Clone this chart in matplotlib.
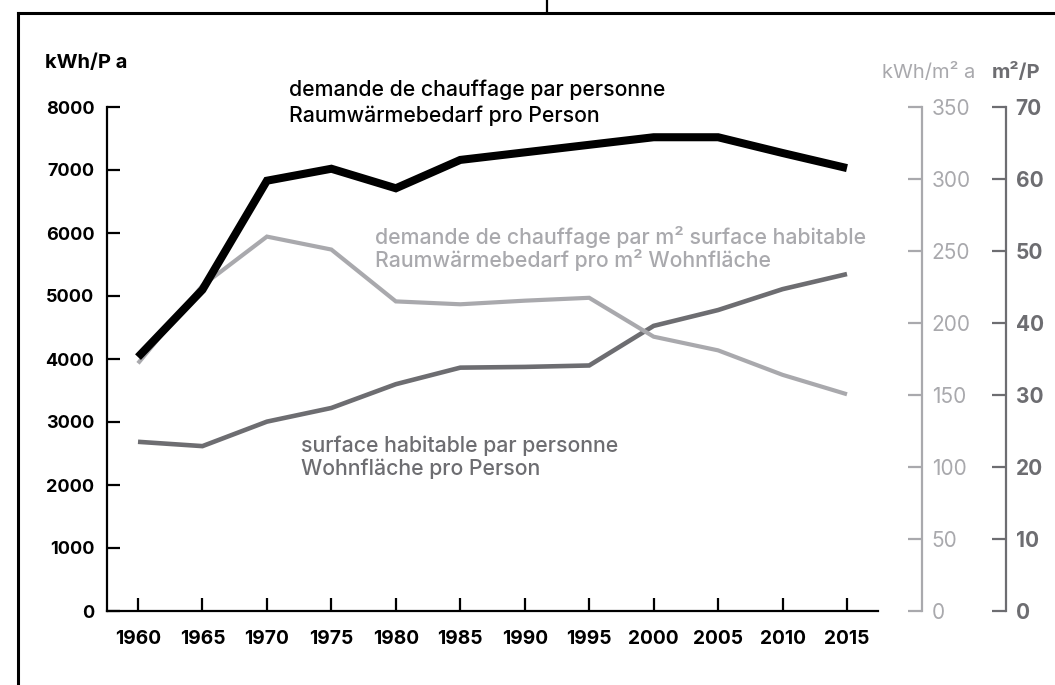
import matplotlib
matplotlib.use("Agg")
import matplotlib.pyplot as plt
from matplotlib.lines import Line2D

plt.rcParams['font.family'] = ['Inter', 'DejaVu Sans']

years = [1960, 1965, 1970, 1975, 1980, 1985, 1990, 1995, 2000, 2005, 2010, 2015]
kwh_per_person = [4030, 5100, 6830, 7020, 6710, 7160, 7280, 7400, 7520, 7520, 7270, 7030]
kwh_per_m2 = [172, 226, 260, 251, 215, 213, 215.5, 217.5, 190.5, 181, 164, 150.5]
m2_per_person = [23.5, 22.9, 26.3, 28.2, 31.5, 33.8, 33.9, 34.1, 39.6, 41.8, 44.7, 46.8]

left_ticks = [0, 1000, 2000, 3000, 4000, 5000, 6000, 7000, 8000]
mid_ticks = [0, 50, 100, 150, 200, 250, 300, 350]
right_ticks = [0, 10, 20, 30, 40, 50, 60, 70]

BLACK = "#000000"
LIGHT = "#a9a9ad"
DARK = "#6d6d71"

W, H = 1055, 685
fig = plt.figure(figsize=(W / 100, H / 100), dpi=100)

x0, x1 = 107, 878
y0, y1 = 611, 107
rect = [x0 / W, 1 - y0 / H, (x1 - x0) / W, (y0 - y1) / H]
ax = fig.add_axes(rect)
ax2 = ax.twinx()
ax3 = ax.twinx()

ax.set_zorder(3)
ax2.set_zorder(2)
ax3.set_zorder(1)
ax.patch.set_visible(False)
ax2.patch.set_visible(False)

ax3.plot(years, m2_per_person, color=DARK, lw=3.3, solid_joinstyle='miter', solid_capstyle='butt')
ax2.plot(years, kwh_per_m2, color=LIGHT, lw=3.0, solid_joinstyle='miter', solid_capstyle='butt')
ax.plot(years, kwh_per_person, color=BLACK, lw=5.8, solid_joinstyle='miter', solid_capstyle='butt')

xl = (1960 - 31 / 12.89, 2015 + 31 / 12.89)
for a in (ax, ax2, ax3):
    a.set_xlim(*xl)
    a.spines['top'].set_visible(False)

ax.set_ylim(0, 8000)
ax2.set_ylim(0, 350)
ax3.set_ylim(0, 70)

ax.spines['right'].set_visible(False)
for s in ('left', 'bottom'):
    ax.spines[s].set_linewidth(1.6)
ax.set_yticks(left_ticks)
ax.set_xticks(years)
ax.set_xticklabels([str(y) for y in years])
ax.tick_params(axis='both', direction='in', length=9.5, width=1.6, colors=BLACK)
ax.tick_params(axis='y', pad=9, labelsize=13)
ax.tick_params(axis='x', pad=14, labelsize=13.8)
for lab in ax.get_xticklabels() + ax.get_yticklabels():
    lab.set_fontweight('bold')

for s in ('left', 'bottom'):
    ax2.spines[s].set_visible(False)
    ax3.spines[s].set_visible(False)
ax2.spines['right'].set_position(('axes', (922 - x0) / (x1 - x0)))
ax2.spines['right'].set_color(LIGHT)
ax2.spines['right'].set_linewidth(1.6)
ax2.set_yticks(mid_ticks)
ax2.tick_params(axis='y', direction='in', length=10, width=1.6, colors=LIGHT,
                labelsize=15, pad=7)

ax3.spines['right'].set_position(('axes', (1006 - x0) / (x1 - x0)))
ax3.spines['right'].set_color(DARK)
ax3.spines['right'].set_linewidth(1.6)
ax3.set_yticks(right_ticks)
ax3.tick_params(axis='y', direction='in', length=10, width=1.6, colors=DARK,
                labelsize=15, pad=7)
for lab in ax3.get_yticklabels():
    lab.set_fontweight('bold')
for a in (ax2, ax3):
    a.tick_params(axis='x', bottom=False, labelbottom=False)

def fx(px):
    return px / W

def fy(py):
    return 1 - py / H

# axis titles
fig.text(fx(45), fy(63), "kWh/P a", fontsize=14.5, fontweight='bold', color=BLACK, va='center')
fig.text(fx(975), fy(72), "kWh/m² a", fontsize=14.5, color=LIGHT, va='center', ha='right')
fig.text(fx(992), fy(72), "m²/P", fontsize=14.5, fontweight='bold', color=DARK, va='center')

ann = 15.3
fig.text(fx(289), fy(90), "demande de chauffage par personne", fontsize=ann,
         fontweight='medium', color=BLACK, va='center')
fig.text(fx(289), fy(116), "Raumwärmebedarf pro Person", fontsize=ann,
         fontweight='medium', color=BLACK, va='center')
fig.text(fx(375), fy(237), "demande de chauffage par m² surface habitable", fontsize=ann,
         fontweight='medium', color=LIGHT, va='center')
fig.text(fx(375), fy(260), "Raumwärmebedarf pro m² Wohnfläche", fontsize=ann,
         fontweight='medium', color=LIGHT, va='center')
fig.text(fx(301), fy(446), "surface habitable par personne", fontsize=ann,
         fontweight='medium', color=DARK, va='center')
fig.text(fx(301), fy(469), "Wohnfläche pro Person", fontsize=ann,
         fontweight='medium', color=DARK, va='center')

# frame
fig.add_artist(Line2D([fx(18), fx(18)], [fy(13), fy(700)], color=BLACK, lw=2.2))
fig.add_artist(Line2D([fx(18), fx(1070)], [fy(13), fy(13)], color=BLACK, lw=2.2))
fig.add_artist(Line2D([fx(547), fx(547)], [fy(13), fy(-5)], color=BLACK, lw=1.6))

fig.savefig("out.png", dpi=100, facecolor='white')
